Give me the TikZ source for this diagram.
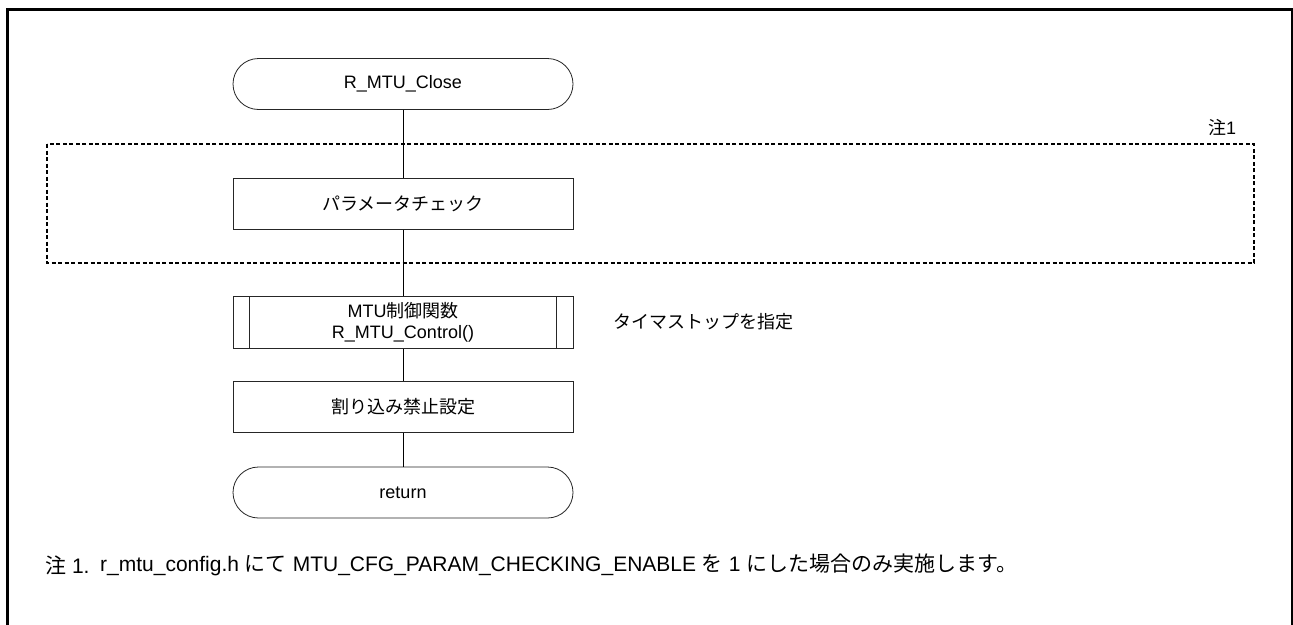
\documentclass[tikz,border=0pt]{standalone}
\usepackage{fontspec}
\setmainfont{Liberation Sans}
\newfontfamily\jp{Noto Sans CJK JP}
\begin{document}
\begin{tikzpicture}[x=1pt,y=-1pt,
  box/.style={draw=black!85,line width=0.8pt,minimum width=340pt,minimum height=51pt,inner sep=0pt,align=center,font=\fontsize{18}{21}\selectfont},
  term/.style={box,rounded corners=25.5pt},
  conn/.style={draw=black,line width=0.8pt},
  txt/.style={inner sep=0pt,font=\fontsize{18}{21}\selectfont},
  foot/.style={inner sep=0pt,anchor=west,font=\fontsize{21}{24}\selectfont}]
\useasboundingbox (0,0) rectangle (1293,624);
\fill[white] (0,0) rectangle (1293,624);
\draw[line width=3pt] (7,660) -- (7,9.5) -- (1292,9.5) -- (1292,660);
\draw[line width=1.2pt,dash pattern=on 4pt off 2.5pt] (47,144) rectangle (1254,263);
\node[txt] (n1) at (1222,128) {{\jp 注}1};
\node[term] (start) at (403,84) {R\_MTU\_Close};
\node[box] (param) at (403,204) {{\jp パラメータチェック}};
\node[box,minimum height=52pt] (mtu) at (403,322.5) {MTU{\jp 制御関数}\\R\_MTU\_Control()};
\draw[black!85,line width=0.8pt] ([xshift=17pt]mtu.north west) -- ([xshift=17pt]mtu.south west)
  ([xshift=-17pt]mtu.north east) -- ([xshift=-17pt]mtu.south east);
\node[txt,anchor=west] (note) at (613,322) {{\jp タイマストップを指定}};
\node[box] (irq) at (403,407) {{\jp 割り込み禁止設定}};
\node[term] (ret) at (403,492.5) {return};
\draw[conn] (start) -- (param);
\draw[conn] (param) -- (mtu);
\draw[conn] (mtu) -- (irq);
\draw[conn] (irq) -- (ret);
\node[foot] (f1) at (45,565) {{\jp 注} 1.};
\node[foot] (f2) at (100,565) {r\_mtu\_config.h {\jp にて} MTU\_CFG\_PARAM\_CHECKING\_ENABLE {\jp を} 1 {\jp にした場合のみ実施します。}};
\end{tikzpicture}
\end{document}
